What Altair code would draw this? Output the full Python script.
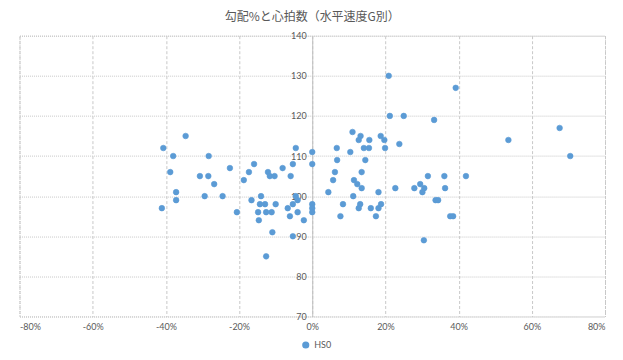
import altair as alt
import pandas as pd

# Grade (%) and heart rate (bpm)
grade_pct = [
    -34.6, -40.7, -38.0, -28.3, -38.8, -30.7, -28.4, -26.8, -37.2, -37.2, -29.4, -24.5, -41.1,
    -22.5, -15.9, -17.3, -18.7, -12.1, -11.6, -10.3, -8.1, -5.3, -4.5, -5.9, 0.0, 0.0,
    -20.6, -16.6, -14.0, -14.3, -12.9, -10.0, -14.8, -14.6, -12.6, -11.1, -10.9, -12.6,
    -6.7, -6.1, -5.3, -4.5, -4.0, -4.0, -2.3, -5.3, 0.0, 0.0, 0.0,
    20.9, 21.2, 11.0, 13.2, 12.7, 15.6, 18.7, 19.7, 6.7, 10.4, 14.1, 15.5, 19.9, 23.8,
    6.8, 14.5, 6.2, 13.5, 5.7, 11.4, 12.3, 13.5, 4.4, 11.2, 18.1, 22.7, 8.4, 13.1, 12.7,
    16.0, 18.8, 18.1, 7.7, 17.4,
    39.2, 25.0, 33.3, 31.6, 36.1, 42.0, 27.9, 29.5, 30.6, 30.1, 36.3, 33.7, 34.4, 37.7,
    38.5, 30.5,
    53.6, 67.6, 70.5,
]
heart_rate = [
    115, 112, 110, 110, 106, 105, 105, 103, 101, 99, 100, 100, 97,
    107, 108, 106, 104, 106, 105, 105, 107, 108, 112, 105, 111, 108,
    96, 99, 100, 98, 98, 98, 96, 94, 96, 96, 91, 85,
    97, 95, 98, 100, 99, 96, 94, 90, 98, 97, 96,
    130, 120, 116, 115, 114, 114, 115, 114, 112, 111, 112, 112, 112, 113,
    109, 109, 106, 106, 104, 104, 103, 102, 101, 100, 101, 102, 98, 98, 97,
    97, 98, 97, 95, 95,
    127, 120, 119, 105, 105, 105, 102, 103, 102, 101, 102, 99, 99, 95,
    95, 89,
    114, 117, 110,
]
series_name = "HS0"

x_ticks = [-80, -60, -40, -20, 0, 20, 40, 60, 80]
y_ticks = [70, 80, 90, 100, 110, 120, 130, 140]

df = pd.DataFrame({
    "grade": grade_pct,
    "hr": heart_rate,
    "series": [series_name] * len(grade_pct),
})

W, H = 586, 281
TEXT = "#595959"
GRID = "#c8c8c8"
BLUE = "#5B9BD5"
LABEL_FONT = "Lato"

chart = alt.Chart(df).mark_point(
    filled=True, size=32, opacity=1, stroke=BLUE, strokeWidth=0.6
).encode(
    x=alt.X(
        "grade:Q",
        scale=alt.Scale(domain=[-80, 80], nice=False, zero=False),
        axis=alt.Axis(
            values=x_ticks, labelExpr="datum.value + '%'", title=None,
            ticks=False, domain=False, grid=True, gridColor=GRID,
            gridDash=[3, 2], labelPadding=6, labelFontSize=9,
            labelColor=TEXT, labelFont=LABEL_FONT,
        ),
    ),
    y=alt.Y(
        "hr:Q",
        scale=alt.Scale(domain=[70, 140], nice=False, zero=False),
        axis=alt.Axis(
            values=y_ticks, title=None, ticks=False, domain=True,
            domainColor="#bfbfbf", offset=-(W / 2), grid=True, gridColor=GRID,
            gridDash=[1, 1], labelPadding=6, labelFontSize=9,
            labelColor=TEXT, labelFont=LABEL_FONT,
        ),
    ),
    color=alt.Color(
        "series:N",
        scale=alt.Scale(range=[BLUE]),
        legend=alt.Legend(
            title=None, orient="none", legendX=282, legendY=305,
            symbolType="circle", symbolSize=32, labelFontSize=9,
            labelColor=TEXT, labelFont=LABEL_FONT, padding=0,
        ),
    ),
).properties(
    width=W,
    height=H,
    title=alt.TitleParams(
        "勾配%と心拍数（水平速度G別）",
        font="Noto Sans CJK JP", fontSize=12, fontWeight="normal",
        color=TEXT, anchor="middle", offset=8,
    ),
    autosize=alt.AutoSizeParams(type="none"),
    padding={"left": 11.5, "top": 27.6, "right": 10, "bottom": 35},
).configure_view(
    stroke=GRID, strokeDash=[1, 1]
)

chart.save("out.html", embed_options={"renderer": "svg", "actions": False})
